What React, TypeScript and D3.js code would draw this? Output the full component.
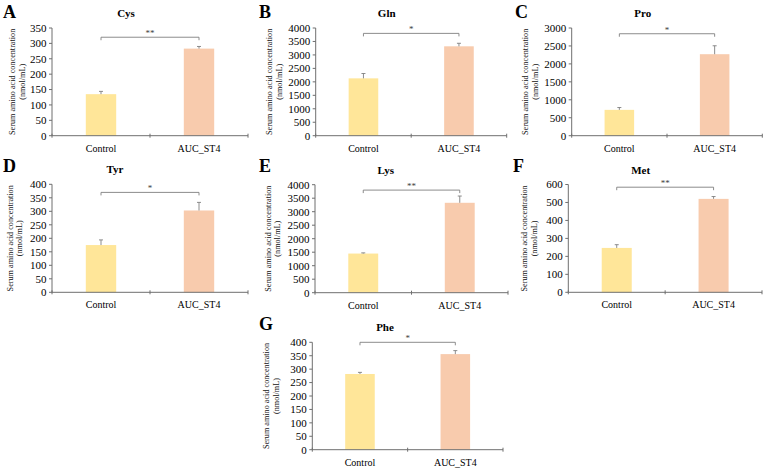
import React from "react";
import * as d3 from "d3";

// Serum amino acid concentrations (nmol/mL), mean and SEM per group
const aminoAcids = ["Cys", "Gln", "Pro", "Tyr", "Lys", "Met", "Phe"];
const panelLetters = ["A", "B", "C", "D", "E", "F", "G"];
const groups = ["Control", "AUC_ST4"];
const controlMeans = [135, 2130, 720, 175, 1450, 247, 282];
const controlErrors = [9, 180, 65, 19, 25, 18, 6];
const st4Means = [283, 3320, 2270, 303, 3330, 520, 356];
const st4Errors = [7, 112, 235, 30, 250, 13, 13];
const yMaxes = [350, 4000, 3000, 400, 4000, 600, 400];
const yTickSteps = [50, 500, 500, 50, 500, 100, 50];
const significance = ["**", "*", "*", "*", "**", "**", "*"];
const bracketLevels = [320, 3800, 2840, 370, 3800, 585, 400];

// Panel frames in page pixels
const frames = [
  { left: 52, right: 248, top: 28, bottom: 135.7, letterX: 3, letterY: 18, titleX: 126, yTitleX: 12 },
  { left: 315.7, right: 506.7, top: 28, bottom: 135.7, letterX: 259, letterY: 18, titleX: 386.7, yTitleX: 269 },
  { left: 571.7, right: 762.3, top: 28, bottom: 135.7, letterX: 515, letterY: 18, titleX: 642.7, yTitleX: 525 },
  { left: 52, right: 248, top: 184.3, bottom: 292.3, letterX: 3, letterY: 171.5, titleX: 115, yTitleX: 9.5 },
  { left: 315, right: 508, top: 184.7, bottom: 292.7, letterX: 259, letterY: 171.5, titleX: 385.7, yTitleX: 267.5 },
  { left: 568.3, right: 762, top: 184.5, bottom: 292.3, letterX: 513, letterY: 171.5, titleX: 640.7, yTitleX: 524 },
  { left: 312.3, right: 503, top: 342.3, bottom: 449.7, letterX: 259, letterY: 330, titleX: 385, yTitleX: 266 },
];

const SERIF = "Liberation Serif";
const barColors = ["#FFE699", "#F8CBAD"];
const axisColor = "#6f6f6f";
const markColor = "#7f7f7f";

function Panel({ i }: { i: number }) {
  const f = frames[i];
  const y = d3.scaleLinear().domain([0, yMaxes[i]]).range([f.bottom, f.top]);
  const x = d3.scaleBand<string>().domain(groups).range([f.left, f.right]).paddingInner(0).paddingOuter(0);
  const ticks = d3.range(0, yMaxes[i] + yTickSteps[i] / 2, yTickSteps[i]);
  const barW = x.bandwidth() * 0.31;
  const means = [controlMeans[i], st4Means[i]];
  const errs = [controlErrors[i], st4Errors[i]];
  const cx = (g: string) => (x(g) as number) + x.bandwidth() / 2;
  const by = y(bracketLevels[i]);
  const x1 = cx(groups[0]);
  const x2 = cx(groups[1]);
  const midY = (f.top + f.bottom) / 2;
  const boundaries = [f.left, f.left + x.bandwidth(), f.right];

  return (
    <g>
      <text x={f.letterX} y={f.letterY} style={{ fontFamily: SERIF }} fontWeight="bold" fontSize={18} fill="#000">
        {panelLetters[i]}
      </text>
      <text x={f.titleX} y={f.top - 11} style={{ fontFamily: SERIF }} fontWeight="bold" fontSize={11} textAnchor="middle" fill="#000">
        {aminoAcids[i]}
      </text>
      {/* y-axis title */}
      <g transform={`translate(${f.yTitleX},${midY}) rotate(-90)`}>
        <text x={0} y={3} style={{ fontFamily: SERIF }} fontSize={8.2} textAnchor="middle" fill="#111">
          Serum amino acid concentration
        </text>
        <text x={0} y={12.5} style={{ fontFamily: SERIF }} fontSize={8.2} textAnchor="middle" fill="#111">
          (nmol/mL)
        </text>
      </g>
      {/* bars */}
      {groups.map((g, k) => (
        <rect key={g} x={cx(g) - barW / 2} y={y(means[k])} width={barW} height={f.bottom - y(means[k])} fill={barColors[k]} />
      ))}
      {/* error bars */}
      {groups.map((g, k) => (
        <g key={g + "e"} stroke={markColor} strokeWidth={0.9}>
          <line x1={cx(g)} x2={cx(g)} y1={y(means[k])} y2={y(means[k] + errs[k])} />
          <line x1={cx(g) - 2} x2={cx(g) + 2} y1={y(means[k] + errs[k])} y2={y(means[k] + errs[k])} />
        </g>
      ))}
      {/* y axis */}
      <line x1={f.left} x2={f.left} y1={f.top} y2={f.bottom} stroke={axisColor} strokeWidth={1} />
      {ticks.map((t) => (
        <g key={t}>
          <line x1={f.left - 3} x2={f.left} y1={y(t)} y2={y(t)} stroke={axisColor} strokeWidth={1} />
          <text x={f.left - 5.5} y={y(t) + 3.8} style={{ fontFamily: SERIF }} fontSize={11} textAnchor="end" fill="#000">
            {t}
          </text>
        </g>
      ))}
      {/* x axis */}
      <line x1={f.left} x2={f.right} y1={f.bottom} y2={f.bottom} stroke={axisColor} strokeWidth={1} />
      {boundaries.map((b, k) => (
        <line key={k} x1={b} x2={b} y1={f.bottom - 2} y2={f.bottom + 2} stroke={axisColor} strokeWidth={1} />
      ))}
      {groups.map((g) => (
        <text key={g + "l"} x={cx(g)} y={f.bottom + 16} style={{ fontFamily: SERIF }} fontSize={10} textAnchor="middle" fill="#000">
          {g}
        </text>
      ))}
      {/* significance bracket */}
      <path d={`M${x1},${by + 3}V${by}H${x2}V${by + 3}`} fill="none" stroke={markColor} strokeWidth={0.9} />
      <text x={(x1 + x2) / 2} y={by - 1} style={{ fontFamily: SERIF }} fontSize={9} textAnchor="middle" fill="#404040">
        {significance[i]}
      </text>
    </g>
  );
}

export default function App() {
  return (
    <svg width={767} height={470} style={{ position: "absolute", left: 0, top: 0, background: "#fff" }}>
      <rect width={767} height={470} fill="#fff" />
      {aminoAcids.map((_, i) => (
        <Panel key={i} i={i} />
      ))}
    </svg>
  );
}
